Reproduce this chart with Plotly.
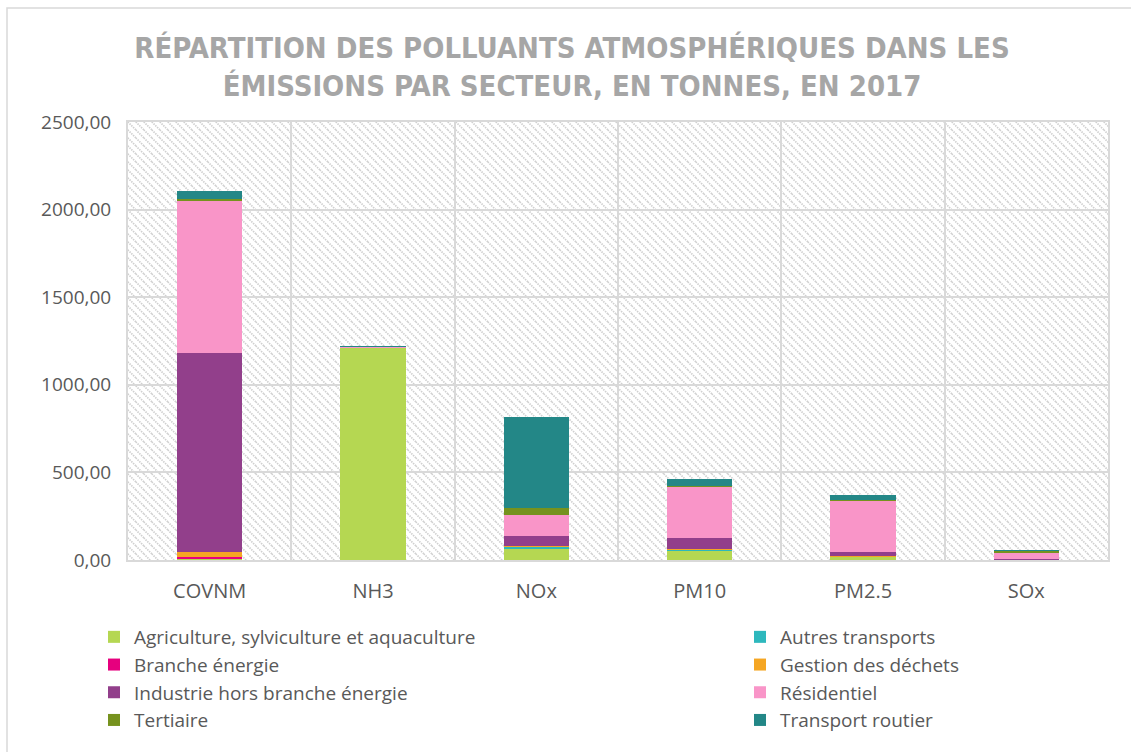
import base64
import plotly.graph_objects as go

# Emissions par secteur (tonnes, 2017)
categories = ["COVNM", "NH3", "NOx", "PM10", "PM2.5", "SOx"]
agriculture = [6, 1212, 63, 57, 18, 1]
autres_transports = [2, 0, 13, 2, 2, 0]
branche_energie = [12, 0, 1, 1, 1, 1]
gestion_dechets = [28, 0, 1, 3, 3, 0]
industrie = [1135, 1, 60, 64, 23, 2]
residentiel = [868, 3, 120, 291, 292, 38]
tertiaire = [8, 1, 40, 6, 3, 10]
transport_routier = [45, 4, 517, 40, 27, 3]

# (name, values, colour, legend column)
series = [
    ("Agriculture, sylviculture et aquaculture", agriculture, "#B5D752", "legend"),
    ("Autres transports", autres_transports, "#2DB8BD", "legend2"),
    ("Branche énergie", branche_energie, "#E6007E", "legend"),
    ("Gestion des déchets", gestion_dechets, "#F5A623", "legend2"),
    ("Industrie hors branche énergie", industrie, "#923F8B", "legend"),
    ("Résidentiel", residentiel, "#F995C8", "legend2"),
    ("Tertiaire", tertiaire, "#76921E", "legend"),
    ("Transport routier", transport_routier, "#238787", "legend2"),
]

W, H = 1131, 752
ML, MR, MT, MB = 128, 23, 122, 192
PW, PH = W - ML - MR, H - MT - MB

fig = go.Figure()
for name, vals, color, leg in series:
    fig.add_trace(go.Bar(
        x=categories, y=vals, name=name, legend=leg,
        marker=dict(color=color, line=dict(width=0)),
    ))

# hatched plot-area background
svg = (
    f'<svg xmlns="http://www.w3.org/2000/svg" width="{PW}" height="{PH}" '
    f'viewBox="0 0 {PW} {PH}" preserveAspectRatio="none">'
    '<defs><pattern id="h" width="8" height="8" patternUnits="userSpaceOnUse">'
    '<path d="M-2,-2 L10,10 M-2,6 L2,10 M6,-2 L10,2" stroke="#D0D0D0" '
    'stroke-width="1.7" stroke-dasharray="1.5,1"/></pattern></defs>'
    f'<rect width="{PW}" height="{PH}" fill="white"/>'
    f'<rect width="{PW}" height="{PH}" fill="url(#h)"/></svg>'
)
src = "data:image/svg+xml;base64," + base64.b64encode(svg.encode()).decode()

grey_txt = "#595959"
legend_common = dict(
    orientation="v",
    xref="container", yref="container",
    xanchor="left", yanchor="top",
    y=1 - 618 / H,
    font=dict(family="Open Sans", size=19, color=grey_txt),
    itemwidth=30,
    traceorder="normal",
    bgcolor="rgba(0,0,0,0)",
)
fig.update_layout(
    width=W, height=H,
    margin=dict(l=ML, r=MR, t=MT, b=MB, pad=0, autoexpand=False),
    paper_bgcolor="white",
    plot_bgcolor="rgba(0,0,0,0)",
    barmode="stack",
    bargap=0.6,
    separators=", ",
    font=dict(family="Open Sans", size=19, color=grey_txt),
    title=dict(
        text="RÉPARTITION DES POLLUANTS ATMOSPHÉRIQUES DANS LES<br>"
             "ÉMISSIONS PAR SECTEUR, EN TONNES, EN 2017",
        x=572 / W, xanchor="center", xref="container",
        y=1 - 58 / H, yanchor="middle", yref="container",
        font=dict(family="DejaVu Sans Condensed", size=29, color="#A6A6A6",
                  weight="bold"),
    ),
    images=[dict(
        source=src, xref="paper", yref="paper", x=0, y=1,
        sizex=1, sizey=1, xanchor="left", yanchor="top",
        sizing="stretch", layer="below",
    )],
    legend=dict(legend_common, x=94 / W),
    legend2=dict(legend_common, x=740 / W),
    shapes=[dict(
        type="rect", xref="paper", yref="paper",
        x0=-(ML - 7) / PW, x1=(W + 20 - ML) / PW,
        y0=-(H + 20 - MT - PH) / PH, y1=1 + (MT - 8) / PH,
        line=dict(color="#D9D9D9", width=1.5), fillcolor="rgba(0,0,0,0)",
        layer="below",
    )],
)
fig.update_xaxes(
    type="category", tickson="boundaries", ticks="",
    showgrid=True, gridcolor="#D9D9D9", gridwidth=2,
    showline=True, linecolor="#D9D9D9", linewidth=2, mirror=True,
    tickfont=dict(size=20, color=grey_txt), ticklabelstandoff=12,
    tickangle=0, automargin=False,
)
fig.update_yaxes(
    range=[0, 2500], dtick=500, tickformat=".2f",
    showgrid=True, gridcolor="#D9D9D9", gridwidth=2,
    showline=True, linecolor="#D9D9D9", linewidth=2, mirror=True,
    zeroline=False, ticks="", automargin=False,
    tickfont=dict(size=19, color=grey_txt), ticklabelstandoff=11,
)

fig.write_html("out.html")
